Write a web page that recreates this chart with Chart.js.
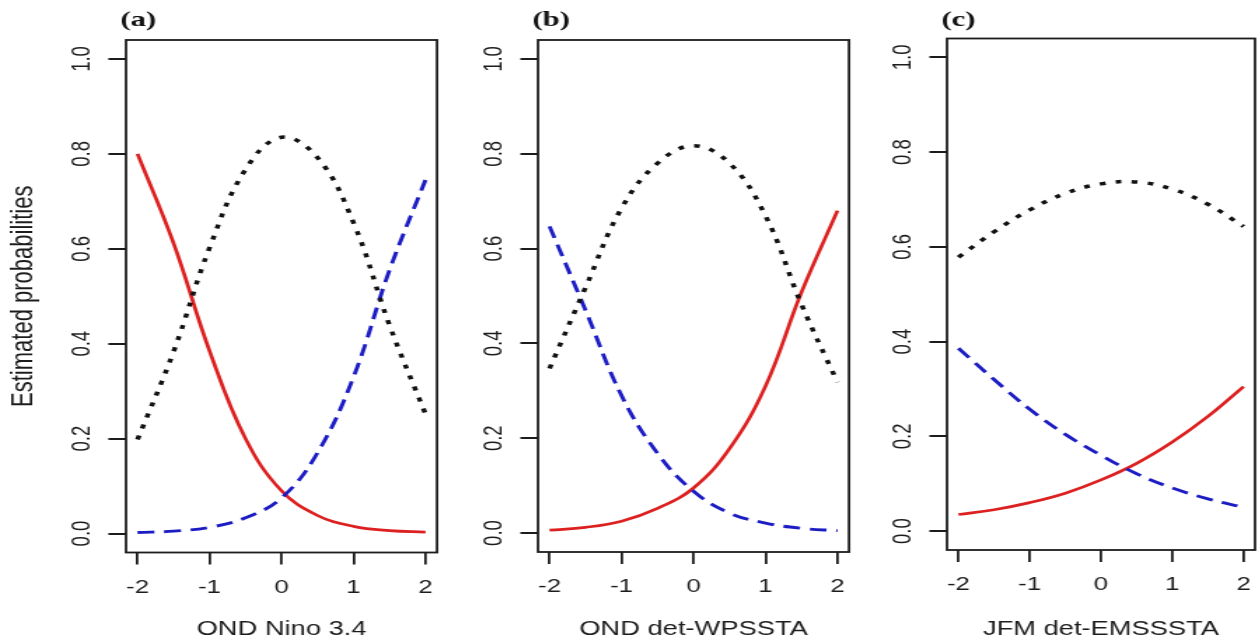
<!DOCTYPE html>
<html>
<head>
<meta charset="utf-8">
<title>Estimated probabilities</title>
<script src="https://cdn.jsdelivr.net/npm/chart.js@4/dist/chart.umd.min.js"></script>
<style>
  html, body { margin: 0; padding: 0; background: #fff; overflow: hidden; }
  #wrap { position: relative; width: 1257px; height: 643px; overflow: hidden; }
  #wrap canvas { position: absolute; top: 0; }
</style>
</head>
<body>
<div id="wrap"></div>
<script>
// Predictor values shared by all three panels
const xs = [-2, -1.5, -1, -0.5, 0, 0.5, 1, 1.5, 2];

// (a) OND Nino 3.4
const redA   = [0.800, 0.612, 0.385, 0.200, 0.090, 0.038, 0.015, 0.006, 0.003];
const blueA  = [0.002, 0.005, 0.013, 0.033, 0.075, 0.170, 0.330, 0.555, 0.745];
const blackA = [0.198, 0.383, 0.602, 0.767, 0.835, 0.792, 0.655, 0.439, 0.252];

// (b) OND det-WPSSTA
const redB   = [0.006, 0.012, 0.025, 0.052, 0.095, 0.178, 0.310, 0.508, 0.680];
const blueB  = [0.647, 0.470, 0.290, 0.168, 0.088, 0.042, 0.021, 0.010, 0.005];
const blackB = [0.347, 0.518, 0.685, 0.780, 0.817, 0.780, 0.669, 0.482, 0.318];

// (c) JFM det-EMSSSTA
const redC   = [0.035, 0.045, 0.060, 0.080, 0.108, 0.143, 0.188, 0.242, 0.305];
const blueC  = [0.386, 0.320, 0.257, 0.204, 0.160, 0.121, 0.091, 0.068, 0.050];
const blackC = [0.578, 0.632, 0.678, 0.713, 0.733, 0.737, 0.722, 0.690, 0.643];

const xTicks = [-2, -1, 0, 1, 2];
const yTicks = [0, 0.2, 0.4, 0.6, 0.8, 1.0];
const panelTags = ['(a)', '(b)', '(c)'];
const xTitles = ['OND Nino 3.4', 'OND det-WPSSTA', 'JFM det-EMSSSTA'];
const yTitle = 'Estimated probabilities';

const panels = [
  { red: redA, blue: blueA, black: blackA },
  { red: redB, blue: blueB, black: blackB },
  { red: redC, blue: blueC, black: blackC }
];

// Layout: each canvas is drawn narrow and widened by CSS
const STRETCH = 1.4;
const CANVAS_W = 330;
const CANVAS_H = 643;
const Y_AXIS_W = 90;
const panelLeft = [0, 412, 821];
const boxWidth = [311, 311, 308];
const boxTop = [40, 40, 38.5];
const boxBottom = [552.5, 552, 550];

const INK = '#1c1c1c';
const RED = '#dc1f1f';
const BLUE = '#1c1cc4';
const SANS = '"Liberation Sans", Arial, Helvetica, sans-serif';

Chart.defaults.font.family = SANS;
Chart.defaults.color = INK;

// Box round the plot area and the panel letter above it
const framePlugin = {
  id: 'frame',
  afterDraw(chart, args, opts) {
    const { ctx, chartArea: a } = chart;
    ctx.save();
    ctx.strokeStyle = INK;
    ctx.lineWidth = 1.8;
    ctx.strokeRect(a.left, a.top, a.right - a.left, a.bottom - a.top);
    ctx.fillStyle = '#111';
    ctx.font = 'bold 22px "Liberation Serif", "Times New Roman", serif';
    ctx.textBaseline = 'middle';
    ctx.textAlign = 'left';
    ctx.fillText(opts.tag, a.left - 4, 20);
    ctx.restore();
  }
};

function series(values, color, width, dash) {
  return {
    data: xs.map((x, k) => ({ x, y: values[k] })),
    borderColor: color,
    borderWidth: width,
    borderDash: dash,
    borderCapStyle: 'butt',
    pointRadius: 0,
    fill: false,
    tension: 0.4
  };
}

function makePanel(i) {
  const canvas = document.createElement('canvas');
  canvas.width = CANVAS_W;
  canvas.height = CANVAS_H;
  canvas.style.left = panelLeft[i] + 'px';
  canvas.style.width = (CANVAS_W * STRETCH) + 'px';
  canvas.style.height = CANVAS_H + 'px';
  document.getElementById('wrap').appendChild(canvas);

  const p = panels[i];

  return new Chart(canvas, {
    type: 'line',
    data: {
      // first dataset ends up on top, so the dotted line goes first
      datasets: [
        series(p.black, '#111', 3.5, [4, 7.5]),
        series(p.blue, BLUE, 2.9, [12, 7]),
        series(p.red, RED, 2.7, [])
      ]
    },
    options: {
      responsive: false,
      animation: false,
      events: [],
      layout: {
        padding: {
          top: boxTop[i],
          bottom: 0,
          left: 0,
          right: CANVAS_W - Y_AXIS_W - boxWidth[i] / STRETCH
        }
      },
      scales: {
        x: {
          type: 'linear',
          min: -2.16,
          max: 2.16,
          afterBuildTicks: s => { s.ticks = xTicks.map(v => ({ value: v })); },
          afterFit: s => { s.height = CANVAS_H - boxBottom[i]; },
          grid: { drawOnChartArea: false, drawTicks: true, tickLength: 12, color: INK, lineWidth: 1.8 },
          border: { display: false },
          ticks: {
            color: INK,
            padding: 12,
            maxRotation: 0,
            font: { size: 18.5 },
            callback: v => String(v)
          },
          title: {
            display: true,
            text: xTitles[i],
            color: INK,
            font: { size: 19.5 },
            padding: { top: 0, bottom: 2 }
          }
        },
        y: {
          type: 'linear',
          min: -0.04,
          max: 1.04,
          afterBuildTicks: s => { s.ticks = yTicks.map(v => ({ value: v })); },
          afterFit: s => { s.width = Y_AXIS_W; },
          grid: { drawOnChartArea: false, drawTicks: true, tickLength: 12.6, color: INK, lineWidth: 2 },
          border: { display: false },
          ticks: {
            color: INK,
            minRotation: 90,
            maxRotation: 90,
            crossAlign: 'center',
            padding: 6,
            font: { size: 18.5 },
            callback: v => v.toFixed(1)
          },
          title: {
            display: i === 0,
            text: yTitle,
            color: INK,
            font: { size: 22 },
            padding: { top: 4, bottom: 0 }
          }
        }
      },
      plugins: {
        legend: { display: false },
        tooltip: { enabled: false },
        frame: { tag: panelTags[i] }
      }
    },
    plugins: [framePlugin]
  });
}

panels.forEach((p, i) => makePanel(i));
</script>
</body>
</html>
